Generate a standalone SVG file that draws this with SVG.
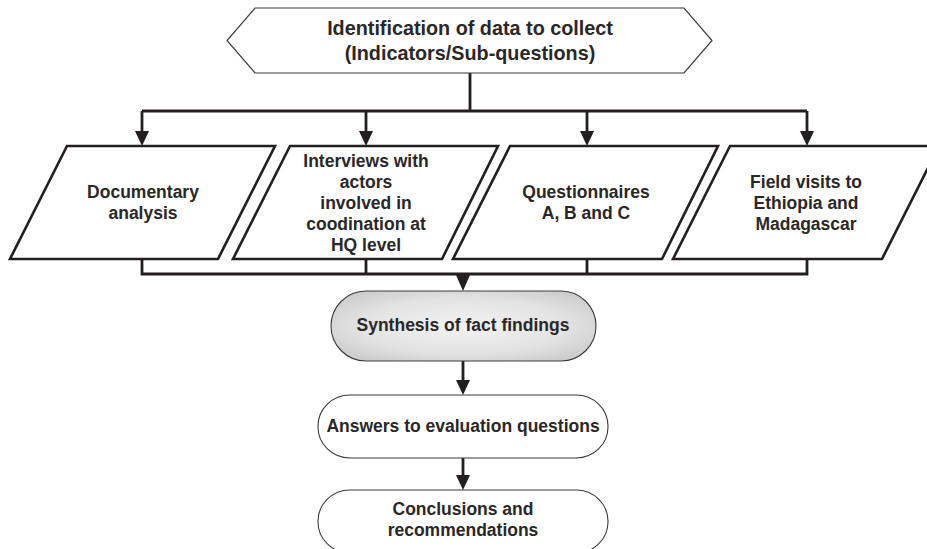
<svg xmlns="http://www.w3.org/2000/svg" width="927" height="549" viewBox="0 0 927 549">
<style>
text{font-family:"Liberation Sans",Arial,sans-serif;font-weight:bold;fill:#2a2728;text-anchor:middle}
.t17{font-size:17.5px}
.t19{font-size:19.8px}
.para{fill:#fff;stroke:#231f20;stroke-width:2.6}
.thin{fill:#fff;stroke:#3a3a3a;stroke-width:1.1}
.con{fill:none;stroke:#231f20;stroke-width:2.8}
</style>
<defs>
<radialGradient id="g" cx="0.5" cy="0.5" r="0.6">
<stop offset="0" stop-color="#f2f2f2"/>
<stop offset="0.65" stop-color="#e3e3e3"/>
<stop offset="1" stop-color="#cdcdcd"/>
</radialGradient>
</defs>
<rect width="927" height="549" fill="#fff"/>
<g id="connectors">
<path class="con" d="M470,73 V111 M142,111 H807"/>
<line class="con" x1="142" y1="111" x2="142" y2="131"/>
<path d="M135,131 L149,131 L142,146 Z" fill="#231f20"/>
<line class="con" x1="366" y1="111" x2="366" y2="131"/>
<path d="M359,131 L373,131 L366,146 Z" fill="#231f20"/>
<line class="con" x1="587" y1="111" x2="587" y2="131"/>
<path d="M580,131 L594,131 L587,146 Z" fill="#231f20"/>
<line class="con" x1="807" y1="111" x2="807" y2="131"/>
<path d="M800,131 L814,131 L807,146 Z" fill="#231f20"/>
<path class="con" d="M142,259 V274 H807 V259 M366,259 V274 M587,259 V274"/>
<path d="M456,275 L470,275 L463,291 Z" fill="#231f20"/>
<line class="con" x1="463" y1="361" x2="463" y2="380"/>
<path d="M456,380 L470,380 L463,395 Z" fill="#231f20"/>
<line class="con" x1="463" y1="458" x2="463" y2="475"/>
<path d="M456,475 L470,475 L463,490 Z" fill="#231f20"/>
</g>
<g id="hex">
<polygon points="255,8 684,8 712,40.5 684,73 255,73 227,40.5" fill="#fff" stroke="#3a3a3a" stroke-width="1.2"/>
<text class="t19" x="470" y="35">Identification of data to collect</text>
<text class="t19" x="470" y="60">(Indicators/Sub-questions)</text>
</g>
<g id="doc">
<polygon class="para" points="67,146 275,146 218,259 10,259"/>
<text class="t17" x="143" y="198">Documentary</text>
<text class="t17" x="143" y="219">analysis</text>
</g>
<g id="interviews">
<polygon class="para" points="290,146 498,146 442,259 233,259"/>
<text class="t17" x="366" y="167">Interviews with</text>
<text class="t17" x="366" y="188">actors</text>
<text class="t17" x="366" y="209">involved in</text>
<text class="t17" x="366" y="230">coodination at</text>
<text class="t17" x="366" y="251">HQ level</text>
</g>
<g id="quest">
<polygon class="para" points="510,146 718,146 662,259 453,259"/>
<text class="t17" x="586" y="198">Questionnaires</text>
<text class="t17" x="586" y="219">A, B and C</text>
</g>
<g id="field">
<polygon class="para" points="730,146 939,146 882,259 673,259"/>
<text class="t17" x="806" y="188">Field visits to</text>
<text class="t17" x="806" y="209">Ethiopia and</text>
<text class="t17" x="806" y="230">Madagascar</text>
</g>
<g id="synthesis">
<rect x="331" y="291" width="265" height="70" rx="35" ry="35" fill="url(#g)" stroke="#3a3a3a" stroke-width="1.1"/>
<text class="t17" x="463" y="331">Synthesis of fact findings</text>
</g>
<g id="answers">
<rect class="thin" x="318" y="395" width="290" height="63" rx="32" ry="31"/>
<text class="t17" x="463" y="432">Answers to evaluation questions</text>
</g>
<g id="conclusions">
<rect class="thin" x="318" y="490" width="290" height="63" rx="32" ry="31"/>
<text class="t17" x="463" y="515">Conclusions and</text>
<text class="t17" x="463" y="536">recommendations</text>
</g>
</svg>
